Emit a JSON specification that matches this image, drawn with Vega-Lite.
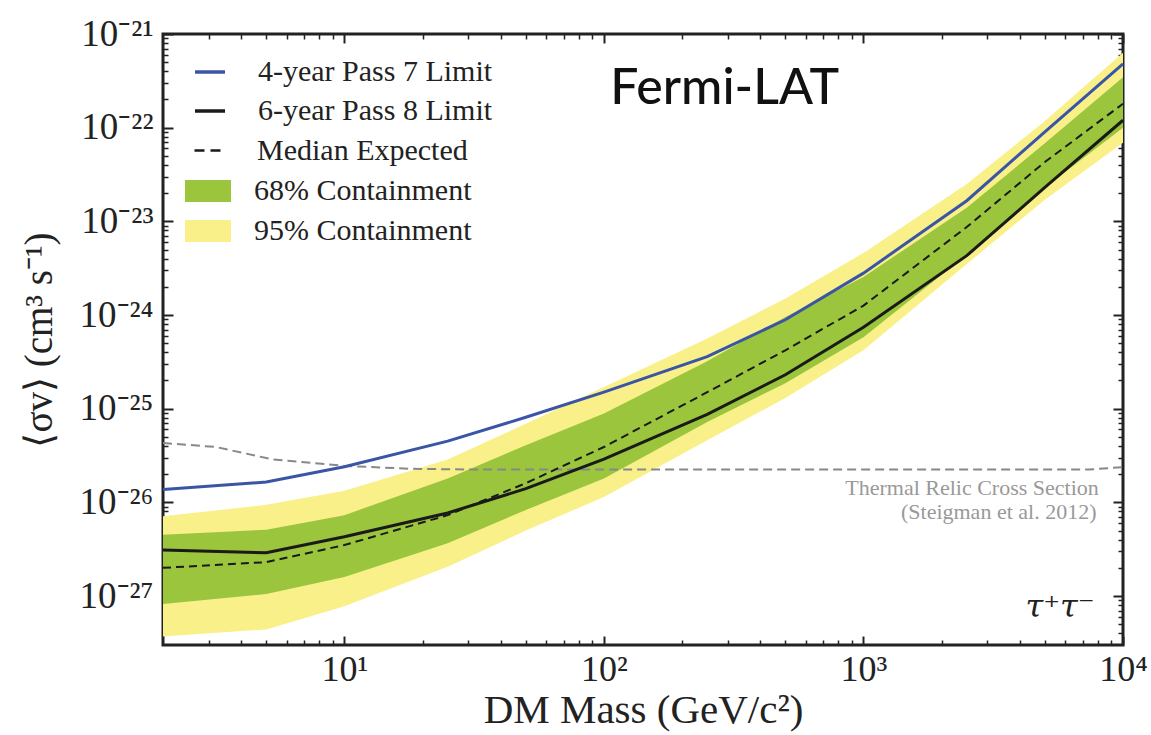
{
  "$schema": "https://vega.github.io/schema/vega-lite/v6.json",
  "width": 960,
  "height": 611,
  "autosize": {"type": "none"},
  "padding": {"left": 163, "top": 34, "right": 28, "bottom": 90},
  "background": "white",
  "config": {
    "font": "Liberation Serif",
    "view": {"stroke": "#222222", "strokeWidth": 3},
    "axis": {"grid": false, "domain": false, "labelColor": "#222222", "titleColor": "#222222", "tickColor": "#222222", "labelFont": "Liberation Serif", "titleFont": "Liberation Serif"},
    "legend": {"orient": "none", "title": null, "padding": 0, "labelFont": "Liberation Serif", "labelFontSize": 30, "labelColor": "#222222", "labelLimit": 0, "symbolSize": 900, "labelOffset": 31, "legendX": 30, "symbolOpacity": 1},
    "text": {"font": "Liberation Serif"}
  },
  "datasets": {
    "limits": [
      {"m": 2, "p7": 1.37e-26, "p8": 3.1e-27, "med": 2.0e-27, "g_lo": 8.2e-28, "g_hi": 4.5e-27, "y_lo": 3.7e-28, "y_hi": 7.1e-27},
      {"m": 5, "p7": 1.65e-26, "p8": 2.9e-27, "med": 2.3e-27, "g_lo": 1.05e-27, "g_hi": 5.1e-27, "y_lo": 4.4e-28, "y_hi": 9.4e-27},
      {"m": 10, "p7": 2.4e-26, "p8": 4.3e-27, "med": 3.5e-27, "g_lo": 1.6e-27, "g_hi": 7.3e-27, "y_lo": 7.8e-28, "y_hi": 1.33e-26},
      {"m": 25, "p7": 4.5e-26, "p8": 7.7e-27, "med": 7.3e-27, "g_lo": 3.65e-27, "g_hi": 1.8e-26, "y_lo": 2.05e-27, "y_hi": 2.87e-26},
      {"m": 50, "p7": 8.1e-26, "p8": 1.4e-26, "med": 1.6e-26, "g_lo": 8.3e-27, "g_hi": 4.07e-26, "y_lo": 5.0e-27, "y_hi": 6.9e-26},
      {"m": 100, "p7": 1.5e-25, "p8": 2.9e-26, "med": 3.9e-26, "g_lo": 1.8e-26, "g_hi": 8.9e-26, "y_lo": 1.14e-26, "y_hi": 1.7e-25},
      {"m": 250, "p7": 3.6e-25, "p8": 8.7e-26, "med": 1.5e-25, "g_lo": 7.2e-26, "g_hi": 3.2e-25, "y_lo": 4.6e-26, "y_hi": 5.6e-25},
      {"m": 500, "p7": 8.9e-25, "p8": 2.3e-25, "med": 4.2e-25, "g_lo": 1.87e-25, "g_hi": 9.5e-25, "y_lo": 1.3e-25, "y_hi": 1.5e-24},
      {"m": 1000, "p7": 2.8e-24, "p8": 7.4e-25, "med": 1.26e-24, "g_lo": 5.8e-25, "g_hi": 2.55e-24, "y_lo": 4.2e-25, "y_hi": 4.6e-24},
      {"m": 2500, "p7": 1.66e-23, "p8": 4.3e-24, "med": 8.7e-24, "g_lo": 4.4e-24, "g_hi": 1.4e-23, "y_lo": 3.5e-24, "y_hi": 2.5e-23},
      {"m": 5000, "p7": 9.0e-23, "p8": 2.3e-23, "med": 4.3e-23, "g_lo": 2.3e-23, "g_hi": 6.8e-23, "y_lo": 1.7e-23, "y_hi": 1.18e-22},
      {"m": 10000, "p7": 4.8e-22, "p8": 1.2e-22, "med": 1.8e-22, "g_lo": 1.0e-22, "g_hi": 3.45e-22, "y_lo": 6.9e-23, "y_hi": 6.3e-22}
    ],
    "relic": [
      {"m": 2, "v": 4.3e-26},
      {"m": 3.2, "v": 3.9e-26},
      {"m": 5.3, "v": 2.87e-26},
      {"m": 10, "v": 2.45e-26},
      {"m": 18, "v": 2.28e-26},
      {"m": 32, "v": 2.24e-26},
      {"m": 100, "v": 2.24e-26},
      {"m": 1000, "v": 2.24e-26},
      {"m": 7400, "v": 2.24e-26},
      {"m": 10000, "v": 2.38e-26}
    ]
  },
  "layer": [
    {
      "data": {"name": "limits"},
      "mark": {"type": "area", "opacity": 1},
      "encoding": {
        "x": {"field": "m", "type": "quantitative",
          "scale": {"type": "log", "domain": [2, 10000], "nice": false},
          "axis": {"orient": "bottom", "values": [10, 100, 1000, 10000], "ticks": false, "labelPadding": 7,
            "labelExpr": "'10' + ['', '¹', '²', '³', '⁴'][round(log(datum.value)/LN10)]",
            "labelFont": "Liberation Serif", "labelFontSize": 36, "labelFlush": false,
            "title": "DM Mass (GeV/c²)", "titleFont": "Liberation Serif", "titleFontSize": 41, "titleFontWeight": "normal", "titlePadding": 3}},
        "y": {"field": "y_lo", "type": "quantitative",
          "scale": {"type": "log", "domain": [3e-28, 1e-21], "nice": false},
          "axis": {"orient": "left", "values": [1e-27, 1e-26, 1e-25, 1e-24, 1e-23, 1e-22, 1e-21], "ticks": false, "labelPadding": 10,
            "labelExpr": "'10⁻²' + ['⁰', '¹', '²', '³', '⁴', '⁵', '⁶', '⁷', '⁸', '⁹'][round(-log(datum.value)/LN10) - 20]",
            "labelFont": "Liberation Serif", "labelFontSize": 37, "labelFlush": false,
            "title": "⟨σv⟩ (cm³ s⁻¹)", "titleFont": "Liberation Serif", "titleFontSize": 39, "titleFontWeight": "normal", "titlePadding": 20}},
        "y2": {"field": "y_hi"},
        "color": {"datum": "95% Containment", "type": "nominal",
          "scale": {"range": ["#f9f08a"]},
          "legend": {"legendY": 182, "symbolType": "M-1.533,-0.733H1.533V0.733H-1.533Z", "symbolStrokeWidth": 0}}
      }
    },
    {
      "data": {"name": "limits"},
      "mark": {"type": "area", "opacity": 1},
      "encoding": {
        "x": {"field": "m", "type": "quantitative", "axis": null},
        "y": {"field": "g_lo", "type": "quantitative", "axis": null},
        "y2": {"field": "g_hi"},
        "color": {"datum": "68% Containment", "type": "nominal",
          "scale": {"range": ["#9ac53d"]},
          "legend": {"legendY": 142, "symbolType": "M-1.533,-0.733H1.533V0.733H-1.533Z", "symbolStrokeWidth": 0}}
      }
    },
    {
      "data": {"name": "relic"},
      "mark": {"type": "line", "color": "#888888", "strokeWidth": 2, "strokeDash": [9, 5]},
      "encoding": {
        "x": {"field": "m", "type": "quantitative", "axis": null},
        "y": {"field": "v", "type": "quantitative", "axis": null}
      }
    },
    {
      "data": {"name": "limits"},
      "mark": {"type": "line", "strokeWidth": 2, "strokeDash": [8, 5]},
      "encoding": {
        "x": {"field": "m", "type": "quantitative", "axis": null},
        "y": {"field": "med", "type": "quantitative", "axis": null},
        "color": {"datum": "Median Expected", "type": "nominal",
          "scale": {"range": ["#1a1a1a"]},
          "legend": {"legendY": 100, "symbolType": "M-1,0H1", "symbolStrokeWidth": 2.5, "symbolDash": [10, 6]}}
      }
    },
    {
      "data": {"name": "limits"},
      "mark": {"type": "line", "strokeWidth": 3},
      "encoding": {
        "x": {"field": "m", "type": "quantitative", "axis": null},
        "y": {"field": "p8", "type": "quantitative", "axis": null},
        "color": {"datum": "6-year Pass 8 Limit", "type": "nominal",
          "scale": {"range": ["#1a1a1a"]},
          "legend": {"legendY": 60, "symbolType": "M-1,0H1", "symbolStrokeWidth": 3.5}}
      }
    },
    {
      "data": {"name": "limits"},
      "mark": {"type": "line", "strokeWidth": 3},
      "encoding": {
        "x": {"field": "m", "type": "quantitative", "axis": null},
        "y": {"field": "p7", "type": "quantitative", "axis": null},
        "color": {"datum": "4-year Pass 7 Limit", "type": "nominal",
          "scale": {"range": ["#3a55a5"]},
          "legend": {"legendY": 21, "symbolType": "M-1,0H1", "symbolStrokeWidth": 3.5}}
      }
    },
    {
      "data": {"values": [{}]},
      "mark": {"type": "text", "text": "Fermi-LAT", "font": "Lato", "fontSize": 50, "fontWeight": 500, "color": "#111111", "align": "center", "baseline": "middle"},
      "encoding": {
        "x": {"datum": 292, "type": "quantitative", "axis": null},
        "y": {"datum": 2.6e-22, "type": "quantitative", "axis": null}
      }
    },
    {
      "data": {"values": [{}]},
      "mark": {"type": "text", "text": "Thermal Relic Cross Section", "font": "Liberation Serif", "fontSize": 22, "color": "#999999", "align": "right", "baseline": "middle"},
      "encoding": {
        "x": {"datum": 8068, "type": "quantitative", "axis": null},
        "y": {"datum": 1.416e-26, "type": "quantitative", "axis": null}
      }
    },
    {
      "data": {"values": [{}]},
      "mark": {"type": "text", "text": "(Steigman et al. 2012)", "font": "Liberation Serif", "fontSize": 22, "color": "#999999", "align": "right", "baseline": "middle"},
      "encoding": {
        "x": {"datum": 7903, "type": "quantitative", "axis": null},
        "y": {"datum": 7.8e-27, "type": "quantitative", "axis": null}
      }
    },
    {
      "data": {"values": [{}]},
      "mark": {"type": "text", "text": "τ⁺τ⁻", "font": "DejaVu Serif", "fontSize": 32, "fontStyle": "italic", "color": "#222222", "align": "right", "baseline": "middle"},
      "encoding": {
        "x": {"datum": 7780, "type": "quantitative", "axis": null},
        "y": {"datum": 7.7e-28, "type": "quantitative", "axis": null}
      }
    },
    {
      "data": {"name": "limits"},
      "mark": {"type": "point", "opacity": 0, "size": 0},
      "encoding": {
        "x": {"field": "m", "type": "quantitative",
          "axis": {"orient": "bottom", "values": [10, 100, 1000, 10000], "labels": false, "tickSize": -9, "tickWidth": 2, "title": null}},
        "y": {"field": "p7", "type": "quantitative",
          "axis": {"orient": "left", "values": [1e-27, 1e-26, 1e-25, 1e-24, 1e-23, 1e-22, 1e-21], "labels": false, "tickSize": -10, "tickWidth": 2, "title": null}}
      }
    },
    {
      "data": {"name": "limits"},
      "mark": {"type": "point", "opacity": 0, "size": 0},
      "encoding": {
        "x": {"field": "m", "type": "quantitative",
          "axis": {"orient": "bottom", "values": [3, 4, 5, 6, 7, 8, 9, 20, 30, 40, 50, 60, 70, 80, 90, 200, 300, 400, 500, 600, 700, 800, 900, 2000, 3000, 4000, 5000, 6000, 7000, 8000, 9000], "labels": false, "tickSize": -5, "tickWidth": 1.5, "title": null}},
        "y": {"field": "p7", "type": "quantitative",
          "axis": {"orient": "left", "values": [4e-28, 5e-28, 6e-28, 7e-28, 8e-28, 9e-28, 2e-27, 3e-27, 4e-27, 5e-27, 6e-27, 7e-27, 8e-27, 9e-27, 2e-26, 3e-26, 4e-26, 5e-26, 6e-26, 7e-26, 8e-26, 9e-26, 2e-25, 3e-25, 4e-25, 5e-25, 6e-25, 7e-25, 8e-25, 9e-25, 2e-24, 3e-24, 4e-24, 5e-24, 6e-24, 7e-24, 8e-24, 9e-24, 2e-23, 3e-23, 4e-23, 5e-23, 6e-23, 7e-23, 8e-23, 9e-23, 2e-22, 3e-22, 4e-22, 5e-22, 6e-22, 7e-22, 8e-22, 9e-22], "labels": false, "tickSize": -5, "tickWidth": 1.5, "title": null}}
      }
    },
    {
      "data": {"name": "limits"},
      "mark": {"type": "point", "opacity": 0, "size": 0},
      "encoding": {
        "x": {"field": "m", "type": "quantitative",
          "axis": {"orient": "top", "values": [10, 100, 1000, 10000], "labels": false, "tickSize": -9, "tickWidth": 2, "title": null}},
        "y": {"field": "p7", "type": "quantitative",
          "axis": {"orient": "right", "values": [1e-27, 1e-26, 1e-25, 1e-24, 1e-23, 1e-22, 1e-21], "labels": false, "tickSize": -10, "tickWidth": 2, "title": null}}
      }
    },
    {
      "data": {"name": "limits"},
      "mark": {"type": "point", "opacity": 0, "size": 0},
      "encoding": {
        "x": {"field": "m", "type": "quantitative",
          "axis": {"orient": "top", "values": [3, 4, 5, 6, 7, 8, 9, 20, 30, 40, 50, 60, 70, 80, 90, 200, 300, 400, 500, 600, 700, 800, 900, 2000, 3000, 4000, 5000, 6000, 7000, 8000, 9000], "labels": false, "tickSize": -5, "tickWidth": 1.5, "title": null}},
        "y": {"field": "p7", "type": "quantitative",
          "axis": {"orient": "right", "values": [4e-28, 5e-28, 6e-28, 7e-28, 8e-28, 9e-28, 2e-27, 3e-27, 4e-27, 5e-27, 6e-27, 7e-27, 8e-27, 9e-27, 2e-26, 3e-26, 4e-26, 5e-26, 6e-26, 7e-26, 8e-26, 9e-26, 2e-25, 3e-25, 4e-25, 5e-25, 6e-25, 7e-25, 8e-25, 9e-25, 2e-24, 3e-24, 4e-24, 5e-24, 6e-24, 7e-24, 8e-24, 9e-24, 2e-23, 3e-23, 4e-23, 5e-23, 6e-23, 7e-23, 8e-23, 9e-23, 2e-22, 3e-22, 4e-22, 5e-22, 6e-22, 7e-22, 8e-22, 9e-22], "labels": false, "tickSize": -5, "tickWidth": 1.5, "title": null}}
      }
    }
  ],
  "resolve": {"axis": {"x": "independent", "y": "independent"}, "scale": {"color": "independent"}, "legend": {"color": "independent"}}
}
